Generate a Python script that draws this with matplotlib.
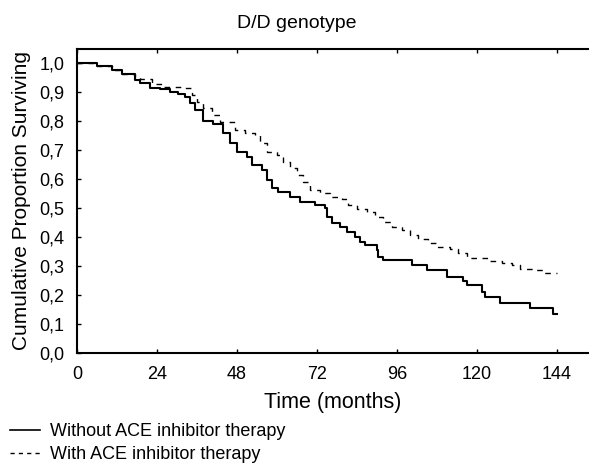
import matplotlib
matplotlib.use('Agg')
import matplotlib.pyplot as plt
from matplotlib.lines import Line2D
from matplotlib.ticker import FuncFormatter

# Kaplan-Meier steps (months, cumulative proportion)
months_without = [0, 6.0, 10.5, 13.5, 17.4, 18.9, 21.9, 24.9, 27.9, 30.3, 32.4, 33.9,
                  35.4, 37.8, 40.8, 43.8, 45.9, 48.0, 51.0, 52.5, 55.5, 57.0, 58.5,
                  60.3, 63.9, 66.9, 71.4, 74.4, 75.0, 76.5, 78.9, 81.0, 83.4, 84.9,
                  86.4, 90.0, 90.3, 91.8, 100.5, 105.0, 111.0, 115.8, 117.0, 121.5,
                  122.4, 126.9, 135.9, 142.8, 144]
surv_without = [1.0, 0.99, 0.976, 0.962, 0.94, 0.93, 0.914, 0.91, 0.90, 0.893, 0.883,
                0.862, 0.838, 0.80, 0.79, 0.76, 0.724, 0.693, 0.676, 0.648, 0.631,
                0.597, 0.569, 0.555, 0.538, 0.52, 0.51, 0.50, 0.469, 0.448, 0.434,
                0.417, 0.40, 0.383, 0.372, 0.355, 0.331, 0.32, 0.303, 0.286, 0.262,
                0.248, 0.234, 0.21, 0.193, 0.172, 0.155, 0.134, 0.134]

months_with = [0, 6.0, 10.5, 13.5, 17.4, 18.9, 22.5, 26.0, 31.5, 34.5, 36.0, 37.8, 40.5,
               42.9, 47.4, 50.4, 53.4, 54.9, 57.0, 60.0, 61.8, 63.9, 66.0, 67.8,
               69.9, 72.9, 75.9, 79.5, 81.3, 84.0, 87.0, 89.4, 91.8, 94.5, 97.5,
               99.9, 102.3, 105.3, 108.0, 111.9, 114.3, 117.0, 123.9, 127.5, 130.5,
               132.9, 136.8, 139.8, 144]
surv_with = [1.0, 0.99, 0.976, 0.962, 0.95, 0.945, 0.928, 0.918, 0.912, 0.89, 0.866,
             0.845, 0.82, 0.797, 0.769, 0.759, 0.752, 0.724, 0.693, 0.683, 0.659,
             0.638, 0.614, 0.59, 0.562, 0.552, 0.538, 0.531, 0.51, 0.497, 0.486,
             0.469, 0.452, 0.434, 0.424, 0.407, 0.393, 0.379, 0.366, 0.359, 0.345,
             0.328, 0.317, 0.31, 0.303, 0.29, 0.286, 0.276, 0.276]

x_ticks = [0, 24, 48, 72, 96, 120, 144]
y_ticks = [0.0, 0.1, 0.2, 0.3, 0.4, 0.5, 0.6, 0.7, 0.8, 0.9, 1.0]

plt.rcParams['font.family'] = ['Liberation Sans', 'DejaVu Sans']

fig = plt.figure(figsize=(5.89, 4.65), dpi=100)
ax = fig.add_axes([77 / 589, 112 / 465, 1 - 77 / 589, (353 - 49) / 465])

ax.step(months_without, surv_without, where='post', color='black', lw=1.5)
ax.step(months_with, surv_with, where='post', color='black', lw=1.0,
        linestyle=(0, (4, 4)))

ax.set_xlim(0, 153.6)
ax.set_ylim(0, 1.048)
ax.set_xticks(x_ticks)
ax.set_yticks(y_ticks)
ax.yaxis.set_major_formatter(FuncFormatter(lambda v, p: f'{v:.1f}'.replace('.', ',')))
ax.tick_params(direction='in', length=3, width=1, labelsize=13, top=True, pad=9)

for side in ['left', 'bottom', 'top']:
    ax.spines[side].set_linewidth(1.5)
ax.spines['right'].set_visible(False)

ax.set_ylabel('Cumulative Proportion Surviving', fontsize=15)
ax.yaxis.set_label_coords(-(77 - 31) / 512, 0.5)
ax.set_xlabel('Time (months)', fontsize=15.5)
ax.xaxis.set_label_coords(0.5, -(402 - 353) / 304)
ax.xaxis.label.set_verticalalignment('center')
fig.text(297 / 589, 1 - 28 / 465, 'D/D genotype', fontsize=14,
         ha='center', va='baseline')

handles = [Line2D([], [], color='black', lw=1.2),
           Line2D([], [], color='black', lw=1.0, linestyle=(0, (3, 3)))]
fig.legend(handles, ['Without ACE inhibitor therapy', 'With ACE inhibitor therapy'],
           loc='lower left', bbox_to_anchor=(8 / 589, 0.0), frameon=False,
           fontsize=13, handlelength=1.65, handletextpad=0.55, labelspacing=0.35,
           borderaxespad=0.0, borderpad=0.1)

fig.savefig('out.png', dpi=100)
